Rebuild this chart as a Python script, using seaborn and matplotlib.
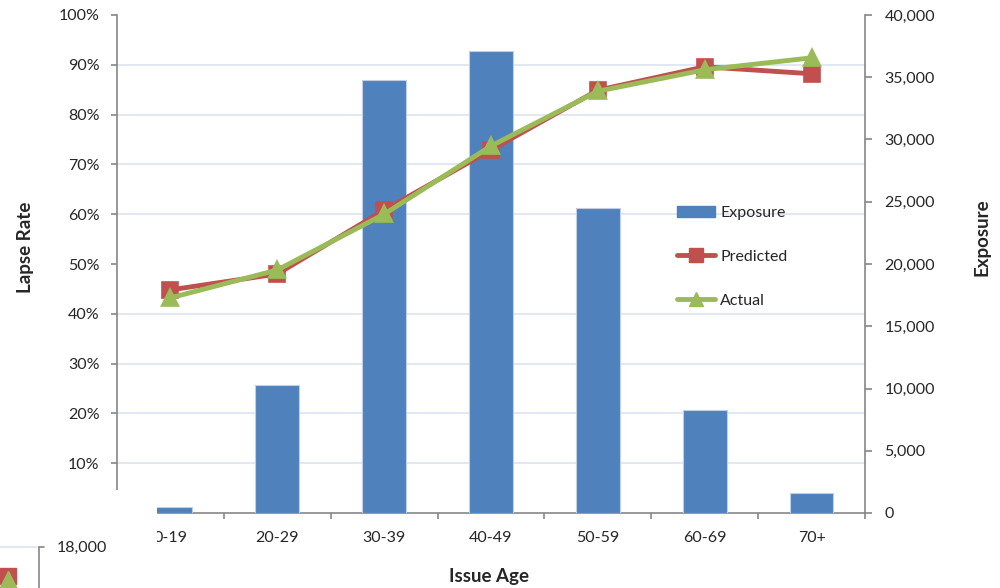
import numpy as np
import pandas as pd
import seaborn as sns
import matplotlib
matplotlib.use("Agg")
import matplotlib.pyplot as plt
from matplotlib.patches import Patch, Rectangle
from matplotlib.lines import Line2D
from matplotlib.ticker import FuncFormatter, MultipleLocator, FixedLocator

# ---- data ----
issue_age = ["0-19", "20-29", "30-39", "40-49", "50-59", "60-69", "70+"]
exposure = [450, 10250, 34750, 37100, 24500, 8250, 1600]
predicted = [44.8, 48.0, 60.8, 72.9, 84.9, 89.6, 88.2]
actual = [43.2, 48.8, 60.0, 73.7, 84.7, 89.0, 91.4]

rate_ticks = list(range(0, 101, 10))
exposure_ticks = list(range(0, 40001, 5000))
RATE_MAX = 100
EXPOSURE_MAX = 40000

BLUE = "#4F81BD"
RED = "#C0504D"
GREEN = "#9BBB59"
AXIS_GREY = "#868686"
GRID = "#DCE4EF"
TEXT = "#262626"
TICK_FS = 11.5
TITLE_FS = 13.5

sns.set_theme(style="white")
plt.rcParams["font.family"] = ["Lato", "DejaVu Sans"]
plt.rcParams["text.color"] = TEXT
plt.rcParams["axes.labelcolor"] = TEXT
plt.rcParams["xtick.color"] = AXIS_GREY
plt.rcParams["ytick.color"] = AXIS_GREY
plt.rcParams["xtick.labelcolor"] = TEXT
plt.rcParams["ytick.labelcolor"] = TEXT

df = pd.DataFrame({"age": issue_age, "exposure": exposure,
                   "predicted": predicted, "actual": actual})

fig = plt.figure(figsize=(10, 5.88), dpi=100)
ax_bar = fig.add_axes([0.117, 1 - 513 / 588, 0.748, 498 / 588])

# exposure bars (right-hand scale)
sns.barplot(data=df, x="age", y="exposure", ax=ax_bar, color=BLUE,
            saturation=1, width=0.41, edgecolor="#BFD0E6", linewidth=0.8,
            zorder=3)
ax_bar.set_ylim(0, EXPOSURE_MAX)

# lapse-rate lines (left-hand scale) on top of the bars
ax_line = ax_bar.twinx()
sns.pointplot(data=df, x="age", y="predicted", ax=ax_line, color=RED,
              markers="s", linestyles="-", errorbar=None,
              markersize=9.5, linewidth=3.5)
sns.pointplot(data=df, x="age", y="actual", ax=ax_line, color=GREEN,
              markers="^", linestyles="-", errorbar=None,
              markersize=10.5, linewidth=3.5)
ax_line.set_ylim(0, RATE_MAX)
ax_bar.set_xlim(-0.5, len(issue_age) - 0.5)

# axis sides
ax_bar.yaxis.tick_right()
ax_bar.yaxis.set_label_position("right")
ax_line.yaxis.tick_left()
ax_line.yaxis.set_label_position("left")

# gridlines behind the bars, at every lapse-rate tick
ax_bar.yaxis.set_minor_locator(FixedLocator(
    [t * EXPOSURE_MAX / RATE_MAX for t in rate_ticks[1:]]))
ax_bar.grid(False)
ax_bar.grid(True, which="minor", axis="y", color=GRID, linewidth=1.2, zorder=0)
ax_bar.set_axisbelow(True)
ax_bar.tick_params(axis="y", which="minor", length=0)
ax_line.grid(False)

# right axis
ax_bar.set_yticks(exposure_ticks)
ax_bar.yaxis.set_major_formatter(FuncFormatter(lambda v, p: f"{int(v):,}"))
ax_bar.tick_params(axis="y", which="major", direction="out", length=5,
                   width=1.2, pad=9, labelsize=TICK_FS, right=True, left=False)

# left axis
ax_line.set_yticks(rate_ticks)
ax_line.yaxis.set_major_formatter(FuncFormatter(lambda v, p: f"{int(v)}%"))
ax_line.tick_params(axis="y", direction="out", length=4.5, width=1.2,
                    pad=8, labelsize=TICK_FS, left=True, right=False)

# x axis: ticks between categories
ax_bar.set_xticks(range(len(issue_age)))
ax_bar.set_xticklabels(issue_age)
ax_bar.xaxis.set_minor_locator(MultipleLocator(1, offset=0.5))
ax_bar.tick_params(axis="x", which="major", length=0, pad=13, labelsize=TICK_FS)
ax_bar.tick_params(axis="x", which="minor", direction="out", length=4,
                   width=1.2, bottom=True)
ax_line.tick_params(axis="x", which="both", length=0, labelbottom=False)

for ax in (ax_bar, ax_line):
    for s in ax.spines.values():
        s.set_visible(False)
ax_bar.spines["right"].set_visible(True)
ax_bar.spines["bottom"].set_visible(True)
ax_line.spines["left"].set_visible(True)
for s in (ax_bar.spines["right"], ax_bar.spines["bottom"], ax_line.spines["left"]):
    s.set_color(AXIS_GREY)
    s.set_linewidth(1.2)

# axis titles
ax_line.set_ylabel("Lapse Rate", fontsize=TITLE_FS, fontweight="bold", va="center")
ax_line.yaxis.set_label_coords(-0.1217, 0.534)
ax_bar.set_ylabel("Exposure", fontsize=TITLE_FS, fontweight="bold", va="center",
                  rotation=90)
ax_bar.yaxis.set_label_coords(1.1564, 0.554)
ax_bar.set_xlabel("Issue Age", fontsize=TITLE_FS, fontweight="bold", va="center")
ax_bar.xaxis.set_label_coords(0.497, -0.1285)

# legend
handles = [
    Patch(facecolor=BLUE, edgecolor=BLUE),
    Line2D([], [], color=RED, lw=3.5, marker="s", markersize=9.5),
    Line2D([], [], color=GREEN, lw=3.5, marker="^", markersize=10.5),
]
fig.legend(handles, ["Exposure", "Predicted", "Actual"],
           loc="upper left", bbox_to_anchor=(0.677, 1 - 206 / 588),
           frameon=False, fontsize=TICK_FS, handlelength=2.4, handleheight=0.7,
           handletextpad=0.3, labelspacing=1.85, borderpad=0, borderaxespad=0)

# neighbouring chart fragment in the lower-left corner
fig.patches.append(Rectangle((0, 0), 0.157, 1 - 490 / 588, transform=fig.transFigure,
                             facecolor="white", edgecolor="none", zorder=10))
fig.add_artist(Line2D([0, 0.037], [1 - 547 / 588] * 2, transform=fig.transFigure,
                      color=GRID, lw=1.2, zorder=11))
fig.add_artist(Line2D([0.039, 0.039], [1 - 547 / 588, 0], transform=fig.transFigure,
                      color=AXIS_GREY, lw=1.2, zorder=11))
fig.add_artist(Line2D([0.039, 0.044], [1 - 547 / 588] * 2, transform=fig.transFigure,
                      color=AXIS_GREY, lw=1.2, zorder=11))
fig.text(0.057, 1 - 548 / 588, "18,000", fontsize=TICK_FS, va="center", ha="left",
         zorder=11)
fig.add_artist(Line2D([0.008], [1 - 576 / 588], transform=fig.transFigure,
                      marker="s", markersize=11, color=RED, lw=0, zorder=11))
fig.add_artist(Line2D([0.008], [1 - 579 / 588], transform=fig.transFigure,
                      marker="^", markersize=11, color=GREEN, lw=0, zorder=12))

fig.savefig("out.png", dpi=100, facecolor="white")
